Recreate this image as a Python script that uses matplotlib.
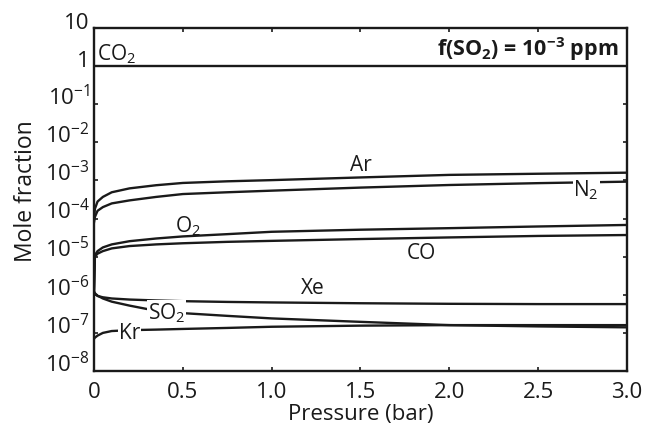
import matplotlib
matplotlib.use("Agg")
import matplotlib.pyplot as plt
import numpy as np

plt.rcParams['font.family'] = ['Open Sans', 'DejaVu Sans']
plt.rcParams['mathtext.fontset'] = 'custom'
plt.rcParams['mathtext.rm'] = 'Open Sans'
plt.rcParams['mathtext.it'] = 'Open Sans'
plt.rcParams['mathtext.bf'] = 'Open Sans:bold'

# pressure (bar) and mole fractions
pressure = [0, 0.005, 0.02, 0.05, 0.1, 0.2, 0.35, 0.5, 0.75, 1.0, 1.5, 2.0, 2.5, 3.0]
ar = [1.0e-4, 1.8e-4, 2.8e-4, 3.7e-4, 4.9e-4, 6.2e-4, 7.5e-4, 8.6e-4, 9.5e-4, 1.02e-3, 1.2e-3, 1.4e-3, 1.5e-3, 1.6e-3]
n2 = [8e-5, 1.1e-4, 1.6e-4, 2.0e-4, 2.5e-4, 3.0e-4, 3.7e-4, 4.4e-4, 4.9e-4, 5.4e-4, 6.5e-4, 7.6e-4, 8.5e-4, 9.3e-4]
o2 = [1.2e-6, 1.1e-5, 1.4e-5, 1.75e-5, 2.1e-5, 2.55e-5, 3.0e-5, 3.4e-5, 3.9e-5, 4.5e-5, 5.1e-5, 5.6e-5, 6.2e-5, 6.8e-5]
co = [1.2e-6, 1.0e-5, 1.2e-5, 1.4e-5, 1.65e-5, 1.9e-5, 2.1e-5, 2.25e-5, 2.45e-5, 2.6e-5, 2.9e-5, 3.2e-5, 3.5e-5, 3.7e-5]
xe = [1.2e-6, 1.05e-6, 9.3e-7, 8.6e-7, 8.0e-7, 7.5e-7, 7.1e-7, 6.8e-7, 6.5e-7, 6.3e-7, 6.0e-7, 5.8e-7, 5.7e-7, 5.7e-7]
so2 = [1.2e-6, 1.1e-6, 9.5e-7, 8.0e-7, 6.6e-7, 5.2e-7, 3.8e-7, 3.3e-7, 2.8e-7, 2.4e-7, 1.95e-7, 1.6e-7, 1.48e-7, 1.4e-7]
kr = [7e-8, 7.5e-8, 8.5e-8, 1.0e-7, 1.12e-7, 1.18e-7, 1.22e-7, 1.27e-7, 1.35e-7, 1.45e-7, 1.55e-7, 1.6e-7, 1.6e-7, 1.6e-7]
co2_x = [0, 3.0]
co2 = [1.0, 1.0]

xticks = [0, 0.5, 1.0, 1.5, 2.0, 2.5, 3.0]
xticklabels = ['0', '0.5', '1.0', '1.5', '2.0', '2.5', '3.0']
yticks = [1e-8, 1e-7, 1e-6, 1e-5, 1e-4, 1e-3, 1e-2, 1e-1, 1, 10]
yticklabels = [r'$\mathregular{10^{-%d}}$' % i for i in range(8, 0, -1)] + ['1', '10']

fig = plt.figure(figsize=(6.51, 4.35), dpi=100)
ax = fig.add_axes([0.1444, 0.1448, 0.8187, 0.7885])

ink = '#1a1a1a'
lw = 1.7
for ys in [ar, n2, o2, co, xe, so2, kr]:
    ax.plot(pressure, ys, color=ink, lw=lw, zorder=2)
ax.plot(co2_x, co2, color=ink, lw=lw, zorder=2)

ax.set_yscale('log')
ax.set_xlim(0, 3.0)
ax.set_ylim(1e-8, 10)
ax.set_xticks(xticks)
ax.set_xticklabels(xticklabels)
ax.set_yticks(yticks)
ax.set_yticklabels(yticklabels)
ax.minorticks_off()
ax.tick_params(direction='in', length=3, width=1.2, top=True, right=True,
               labelsize=16, colors=ink)
ax.tick_params(axis='x', pad=7)
ax.tick_params(axis='y', pad=3)
for lab in ax.get_yticklabels():
    lab.set_va('baseline')
for s in ax.spines.values():
    s.set_linewidth(1.7)
    s.set_color(ink)

ax.set_xlabel('Pressure (bar)', fontsize=16, labelpad=1, color=ink)
ax.set_ylabel('Mole fraction', fontsize=16.5, labelpad=5, color=ink)
ax.yaxis.label.set_y(0.526)

bb = dict(fc='white', ec='none', pad=0.5)
tk = dict(fontsize=15, color=ink, ha='center', va='center', zorder=3)
ax.text(0.13, 2.2, r'CO$_\mathregular{2}$', **tk)
ax.text(2.95, 2.9, r'f(SO$_\mathbf{2}$) = 10$^\mathbf{-3}$ ppm', fontsize=15.5,
        fontweight='bold', color=ink, ha='right', va='center')
ax.text(1.50, 2.6e-3, 'Ar', **tk)
ax.text(2.77, 6.0e-4, r'N$_\mathregular{2}$', bbox=bb, **tk)
ax.text(0.53, 6.5e-5, r'O$_\mathregular{2}$', **tk)
ax.text(1.84, 1.3e-5, 'CO', **tk)
ax.text(1.23, 1.6e-6, 'Xe', **tk)
ax.text(0.41, 3.4e-7, r'SO$_\mathregular{2}$', bbox=bb, **tk)
ax.text(0.20, 1.02e-7, 'Kr', bbox=bb, **tk)

fig.savefig('out.png', dpi=100)
